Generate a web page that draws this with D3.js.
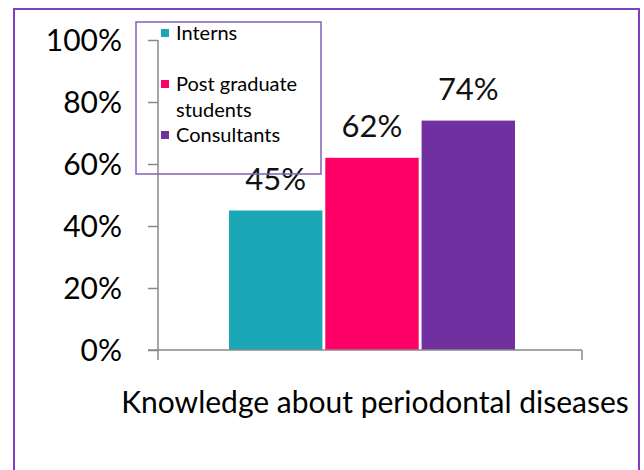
<!DOCTYPE html>
<html>
<head>
<meta charset="utf-8">
<script src="https://cdn.jsdelivr.net/npm/d3@7/dist/d3.min.js"></script>
<style>
  html, body { margin: 0; padding: 0; background: #fff; }
  svg { display: block; font-family: Lato, "Open Sans", sans-serif; }
</style>
</head>
<body>
<svg id="chart" width="644" height="470"></svg>
<script>
// Knowledge about periodontal diseases, by group
const groups = ["Interns", "Post graduate students", "Consultants"];
const values = [0.45, 0.62, 0.74];
const colors = ["#1ba7b6", "#ff0066", "#7030a0"];
const tickValues = [0, 0.2, 0.4, 0.6, 0.8, 1.0];
const axisTitle = "Knowledge about periodontal diseases";

const svg = d3.select("#chart");

// outer frame
svg.append("rect")
  .attr("x", 14).attr("y", 9).attr("width", 625).attr("height", 470)
  .attr("fill", "none").attr("stroke", "#7f40c0").attr("stroke-width", 2);

const y = d3.scaleLinear().domain([0, 1]).range([350, 40]);
const xAxisLeft = 158, xAxisRight = 582;
const x = d3.scaleBand().domain(groups).range([229, 515]).paddingInner(0.03);

// y axis
const yAxis = d3.axisLeft(y).tickValues(tickValues).tickSize(10).tickFormat(d3.format(".0%"));
const gy = svg.append("g").attr("transform", `translate(${xAxisLeft},0)`).call(yAxis);
gy.select(".domain").attr("stroke", "#888").attr("stroke-width", 1.5).attr("d", `M0,${y(1)}V${y(0)}`);
gy.selectAll(".tick line").attr("stroke", "#888").attr("stroke-width", 1.5);
gy.selectAll(".tick text")
  .attr("x", -36).attr("dy", "0.35em")
  .attr("font-size", 30).attr("fill", "#000")
  .attr("font-family", "Lato, 'Open Sans', sans-serif");

// bars
svg.append("g").selectAll("rect")
  .data(groups)
  .join("rect")
  .attr("x", d => x(d))
  .attr("width", x.bandwidth())
  .attr("y", (d, i) => y(values[i]))
  .attr("height", (d, i) => y(0) - y(values[i]))
  .attr("fill", (d, i) => colors[i]);

// x axis baseline with end ticks
const xLine = svg.append("g").attr("stroke", "#888").attr("stroke-width", 1.5);
xLine.append("line").attr("x1", xAxisLeft - 10).attr("x2", xAxisRight).attr("y1", y(0)).attr("y2", y(0));
xLine.append("line").attr("x1", xAxisLeft).attr("x2", xAxisLeft).attr("y1", y(0)).attr("y2", y(0) + 10);
xLine.append("line").attr("x1", xAxisRight).attr("x2", xAxisRight).attr("y1", y(0)).attr("y2", y(0) + 10);

// value labels
svg.append("g").selectAll("text")
  .data(groups)
  .join("text")
  .attr("x", d => x(d) + x.bandwidth() / 2)
  .attr("y", (d, i) => y(values[i]) - 21)
  .attr("text-anchor", "middle")
  .attr("font-size", 31)
  .attr("fill", "#111")
  .text((d, i) => d3.format(".0%")(values[i]));

// axis title
svg.append("text")
  .attr("x", 375).attr("y", 413)
  .attr("text-anchor", "middle")
  .attr("font-size", 30)
  .attr("fill", "#000")
  .text(axisTitle);

// legend
const legend = svg.append("g");
legend.append("rect")
  .attr("x", 136).attr("y", 22).attr("width", 185).attr("height", 152)
  .attr("fill", "none").attr("stroke", "#8060b8").attr("stroke-width", 1.5);
const legendRows = [
  { lines: ["Interns"], y: 33 },
  { lines: ["Post graduate", "students"], y: 84 },
  { lines: ["Consultants"], y: 135 }
];
legendRows.forEach((row, i) => {
  legend.append("rect")
    .attr("x", 161).attr("y", row.y - 4).attr("width", 8).attr("height", 8)
    .attr("fill", colors[i]);
  row.lines.forEach((ln, j) => {
    legend.append("text")
      .attr("x", 176).attr("y", row.y + j * 26)
      .attr("dy", "0.35em")
      .attr("font-size", 20)
      .attr("fill", "#000")
      .text(ln);
  });
});
</script>
</body>
</html>
